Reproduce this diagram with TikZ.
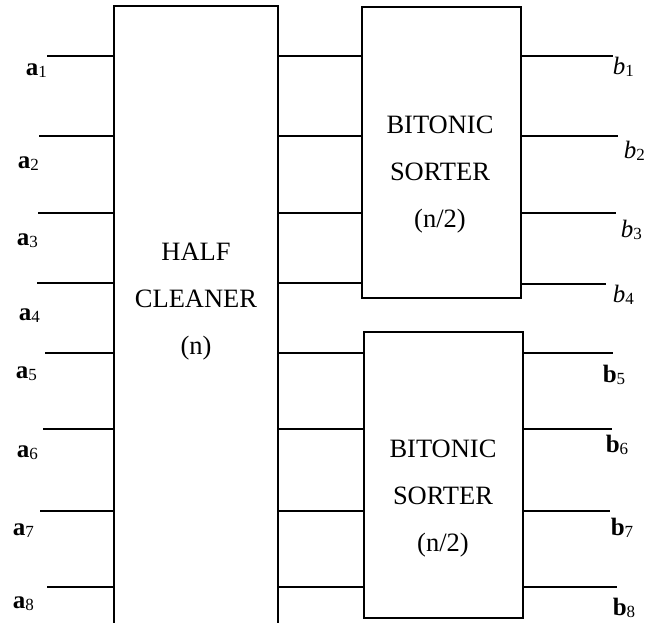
\documentclass[tikz,border=0pt]{standalone}
\usepackage{fontspec}
\setmainfont{Liberation Serif}
\newcommand{\mysub}[1]{\raisebox{-2pt}{\fontsize{17}{17}\selectfont #1}}
\begin{document}
\begin{tikzpicture}[x=1pt,y=-1pt, line width=1.6pt,
  blk/.style={draw, rectangle, inner sep=0pt, outer sep=0pt, line width=1.6pt, anchor=north west},
  txt/.style={align=center, font=\fontsize{26.5}{47}\selectfont, inner sep=0pt},
  lbl/.style={inner sep=0pt, anchor=base west, font=\fontsize{25}{25}\selectfont},
  wire/.style={draw, line width=1.6pt}]
\useasboundingbox (0,0) rectangle (650,622);
% blocks
\node[blk, minimum width=164pt, minimum height=640pt] (hc) at (114,6) {};
\node[blk, minimum width=159pt, minimum height=291pt] (bs1) at (362,7) {};
\node[blk, minimum width=159pt, minimum height=286pt] (bs2) at (364,332) {};
% block texts
\node[txt] (hct) at (196,302) {HALF\\CLEANER\\(n)};
\node[txt] (bt1) at (440,175) {BITONIC\\SORTER\\(n/2)};
\node[txt] (bt2) at (443,499) {BITONIC\\SORTER\\(n/2)};
% input wires
\foreach \i/\y/\x in {1/56/47,2/136/39,3/213/38,4/283/37,5/353/45,6/429/43,7/511/40,8/587/47}{
  \coordinate (in\i) at (\x,\y);
  \draw[wire] (in\i) -- (in\i -| hc.west);
}
% middle wires
\foreach \i in {1,2,3,4}{
  \draw[wire] (in\i -| hc.east) -- (in\i -| bs1.west);
}
\foreach \i in {5,6,7,8}{
  \draw[wire] (in\i -| hc.east) -- (in\i -| bs2.west);
}
% output wires
\foreach \i/\y/\x in {1/56/613,2/136/618,3/213/616,4/284/606}{
  \coordinate (out\i) at (\x,\y);
  \draw[wire] (out\i -| bs1.east) -- (out\i);
}
\foreach \i/\y/\x in {5/353/613,6/429/612,7/511/610,8/587/617}{
  \coordinate (out\i) at (\x,\y);
  \draw[wire] (out\i -| bs2.east) -- (out\i);
}
% input labels
\node[lbl] (la1) at (25,75) {\textbf{a}\mysub{1}};
\node[lbl] (la2) at (17,168) {\textbf{a}\mysub{2}};
\node[lbl] (la3) at (16,245) {\textbf{a}\mysub{3}};
\node[lbl] (la4) at (18,320) {\textbf{a}\mysub{4}};
\node[lbl] (la5) at (15,378) {\textbf{a}\mysub{5}};
\node[lbl] (la6) at (16,457) {\textbf{a}\mysub{6}};
\node[lbl] (la7) at (12,535) {\textbf{a}\mysub{7}};
\node[lbl] (la8) at (12,608) {\textbf{a}\mysub{8}};
% output labels
\node[lbl] (lb1) at (612,74) {\textit{b}\mysub{1}};
\node[lbl] (lb2) at (623,158) {\textit{b}\mysub{2}};
\node[lbl] (lb3) at (620,237) {\textit{b}\mysub{3}};
\node[lbl] (lb4) at (612,302) {\textit{b}\mysub{4}};
\node[lbl] (lb5) at (602,382) {\textbf{b}\mysub{5}};
\node[lbl] (lb6) at (605,452) {\textbf{b}\mysub{6}};
\node[lbl] (lb7) at (610,535) {\textbf{b}\mysub{7}};
\node[lbl] (lb8) at (612,615) {\textbf{b}\mysub{8}};
\end{tikzpicture}
\end{document}
